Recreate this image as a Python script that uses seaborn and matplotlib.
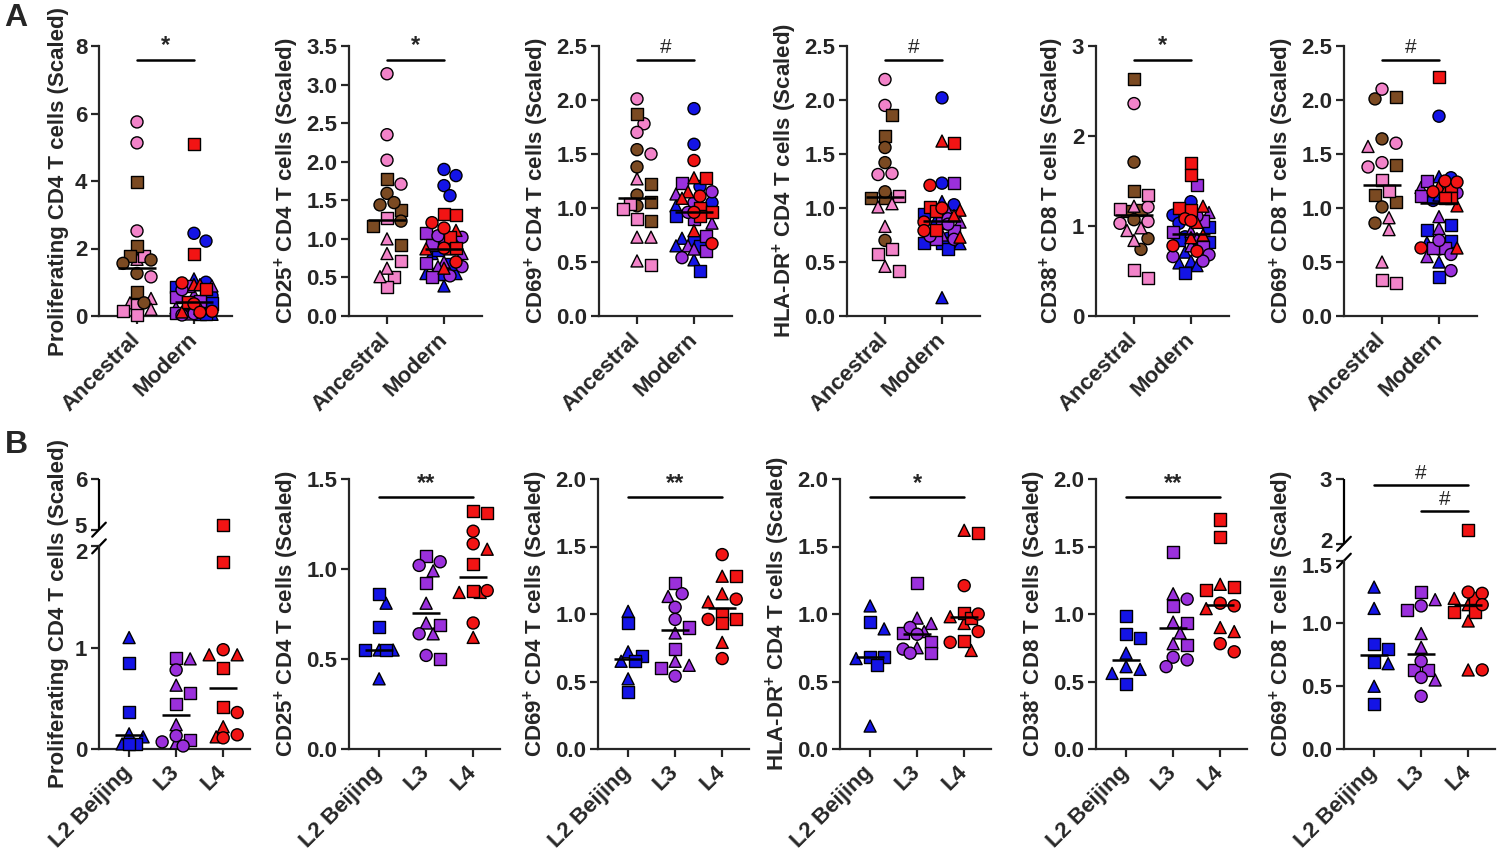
import numpy as np
import pandas as pd
import matplotlib
matplotlib.use("Agg")
import matplotlib.pyplot as plt
import matplotlib.transforms as mtransforms
import seaborn as sns

# ---- data ----
COLORS = {"pink": "#F283C9", "brown": "#7B4A22", "blue": "#1414E6",
          "purple": "#9B30DC", "red": "#F21414"}
MARKERS = {"tri": "^", "sq": "s", "circ": "o"}

metrics = ["prolif", "cd25", "cd69_4", "hladr", "cd38", "cd69_8"]
ylabels = ["Proliferating CD4 T cells (Scaled)",
           "CD25$^{+}$ CD4 T cells (Scaled)",
           "CD69$^{+}$ CD4 T cells (Scaled)",
           "HLA-DR$^{+}$ CD4 T cells (Scaled)",
           "CD38$^{+}$ CD8 T cells (Scaled)",
           "CD69$^{+}$ CD8 T cells (Scaled)"]
groups_a = ["Ancestral", "Modern"]
groups_b = ["L2 Beijing", "L3", "L4"]

# ancestral lineages (pink / brown strains)
anc_prolif = {("pink", "circ"): [5.75, 5.13, 2.52, 1.16], ("pink", "tri"): [1.68, 0.52, 0.39, 0.20],
              ("pink", "sq"): [1.78, 0.33, 0.16, 0.03], ("brown", "sq"): [3.97, 2.08, 1.78, 0.70],
              ("brown", "circ"): [1.66, 1.56, 1.26, 0.39]}
anc_cd25 = {("pink", "circ"): [3.14, 2.35, 2.02, 1.71], ("brown", "sq"): [1.78, 1.38, 1.17, 0.92],
            ("brown", "circ"): [1.59, 1.47, 1.44, 1.23], ("pink", "sq"): [1.27, 0.71, 0.51, 0.37],
            ("pink", "tri"): [1.00, 0.81, 0.62, 0.51]}
anc_cd69_4 = {("pink", "circ"): [2.01, 1.78, 1.70, 1.50], ("brown", "sq"): [1.87, 1.22, 1.06, 0.88],
              ("brown", "circ"): [1.54, 1.38, 1.12, 1.02], ("pink", "tri"): [1.27, 0.73, 0.73, 0.51],
              ("pink", "sq"): [1.04, 0.99, 0.90, 0.47]}
anc_hladr = {("pink", "circ"): [2.19, 1.95, 1.32, 1.31], ("brown", "sq"): [1.86, 1.67, 1.09, 1.09],
             ("brown", "circ"): [1.56, 1.42, 1.15, 0.70], ("pink", "sq"): [1.11, 0.62, 0.57, 0.42],
             ("pink", "tri"): [1.04, 1.01, 0.83, 0.46]}
anc_cd38 = {("brown", "sq"): [2.63, 1.39, 1.18, 1.17], ("pink", "circ"): [2.36, 1.21, 1.05, 1.03],
            ("brown", "circ"): [1.71, 1.07, 0.86, 0.74], ("pink", "sq"): [1.34, 1.19, 0.51, 0.42],
            ("pink", "tri"): [1.22, 0.98, 0.95, 0.84]}
anc_cd69_8 = {("brown", "sq"): [2.03, 1.40, 1.12, 1.06], ("brown", "circ"): [2.01, 1.64, 1.01, 0.86],
              ("pink", "circ"): [2.10, 1.60, 1.42, 1.38], ("pink", "tri"): [1.57, 0.91, 0.80, 0.50],
              ("pink", "sq"): [1.26, 1.16, 0.33, 0.31]}

# extra L2 strain (blue circles) only shown in the Modern column of row A
l2_circ = {"prolif": [2.45, 2.22, 1.00, 0.60], "cd25": [1.90, 1.82, 1.69, 1.56],
           "cd69_4": [1.92, 1.59, 1.20, 1.05], "hladr": [2.02, 1.23, 1.03, 0.72],
           "cd38": [1.27, 1.12, 1.03, 0.88], "cd69_8": [1.85, 1.28, 1.07, 0.62]}

# modern lineages, per strain shape
l2_prolif = {"tri": [1.10, 0.15, 0.12, 0.05], "sq": [0.85, 0.37, 0.05, 0.05]}
l3_prolif = {"tri": [0.89, 0.63, 0.24, 0.06], "sq": [0.90, 0.55, 0.44, 0.09], "circ": [0.78, 0.13, 0.07, 0.03]}
l4_prolif = {"tri": [0.93, 0.93, 0.22, 0.12], "sq": [5.10, 1.85, 0.80, 0.41], "circ": [0.98, 0.36, 0.14, 0.11]}

l2_cd25 = {"tri": [0.81, 0.55, 0.55, 0.39], "sq": [0.86, 0.68, 0.55, 0.55]}
l3_cd25 = {"tri": [0.99, 0.81, 0.70, 0.64], "sq": [1.07, 0.92, 0.69, 0.50], "circ": [1.04, 1.02, 0.64, 0.52]}
l4_cd25 = {"tri": [1.11, 0.87, 0.87, 0.62], "sq": [1.32, 1.31, 1.03, 0.88], "circ": [1.21, 1.14, 0.88, 0.70]}

l2_cd69_4 = {"tri": [1.02, 0.72, 0.65, 0.52], "sq": [0.93, 0.69, 0.65, 0.42]}
l3_cd69_4 = {"tri": [1.13, 0.86, 0.65, 0.62], "sq": [1.23, 0.90, 0.74, 0.60], "circ": [1.15, 1.05, 0.96, 0.54]}
l4_cd69_4 = {"tri": [1.28, 1.15, 1.09, 0.79], "sq": [1.28, 1.00, 0.96, 0.93], "circ": [1.44, 1.11, 0.96, 0.67]}

l2_hladr = {"tri": [1.06, 0.89, 0.67, 0.17], "sq": [0.94, 0.68, 0.68, 0.62]}
l3_hladr = {"tri": [0.97, 0.93, 0.87, 0.75], "sq": [1.23, 0.86, 0.79, 0.71], "circ": [0.90, 0.85, 0.74, 0.71]}
l4_hladr = {"tri": [1.62, 0.98, 0.93, 0.73], "sq": [1.60, 1.01, 0.97, 0.80], "circ": [1.21, 1.00, 0.87, 0.79]}

l2_cd38 = {"tri": [0.71, 0.61, 0.59, 0.56], "sq": [0.985, 0.85, 0.82, 0.48]}
l3_cd38 = {"tri": [1.15, 0.94, 0.86, 0.78], "sq": [1.46, 1.06, 0.93, 0.77], "circ": [1.11, 0.68, 0.66, 0.61]}
l4_cd38 = {"tri": [1.22, 1.04, 0.90, 0.87], "sq": [1.70, 1.57, 1.20, 1.18], "circ": [1.08, 1.06, 0.78, 0.72]}

l2_cd69_8 = {"tri": [1.29, 1.12, 0.68, 0.50], "sq": [0.84, 0.80, 0.69, 0.36]}
l3_cd69_8 = {"tri": [1.19, 0.92, 0.81, 0.55], "sq": [1.25, 1.11, 0.63, 0.63], "circ": [1.14, 0.70, 0.57, 0.42]}
l4_cd69_8 = {"tri": [1.20, 1.15, 1.02, 0.63], "sq": [2.215, 1.20, 1.09, 1.09], "circ": [1.25, 1.24, 1.15, 0.63]}

anc_data = [anc_prolif, anc_cd25, anc_cd69_4, anc_hladr, anc_cd38, anc_cd69_8]
lin_data = [(l2_prolif, l3_prolif, l4_prolif), (l2_cd25, l3_cd25, l4_cd25),
            (l2_cd69_4, l3_cd69_4, l4_cd69_4), (l2_hladr, l3_hladr, l4_hladr),
            (l2_cd38, l3_cd38, l4_cd38), (l2_cd69_8, l3_cd69_8, l4_cd69_8)]
lin_colors = ["blue", "purple", "red"]

ylim_a = [8, 3.5, 2.5, 2.5, 3, 2.5]
yticks_a = [[0, 2, 4, 6, 8], np.arange(0, 3.6, 0.5), np.arange(0, 2.6, 0.5),
            np.arange(0, 2.6, 0.5), [0, 1, 2, 3], np.arange(0, 2.6, 0.5)]
ylim_b = [6, 1.5, 2.0, 2.0, 2.0, 3]
yticks_b = [[0, 1, 2, 5, 6], [0, 0.5, 1.0, 1.5], [0, 0.5, 1.0, 1.5, 2.0],
            [0, 0.5, 1.0, 1.5, 2.0], [0, 0.5, 1.0, 1.5, 2.0], [0, 0.5, 1.0, 1.5, 2, 3]]
yticklabels_b = [["0", "1", "2", "5", "6"], None, None, None, None,
                 ["0.0", "0.5", "1.0", "1.5", "2", "3"]]
# axis breaks: (low end, high start, gap, upper compression)
breaks_b = [(2, 5, 0.165, 0.5), None, None, None, None, (1.5, 2, 0.135, 0.516)]

sig_a = ["*", "*", "#", "#", "*", "#"]
sig_b = [[], [(0, 2, "**", 0.933)], [(0, 2, "**", 0.933)], [(0, 2, "*", 0.933)],
         [(0, 2, "**", 0.933)], [(0, 2, "#", 0.978), (1, 2, "#", 0.881)]]

# ---- style ----
sns.set_style("ticks")
plt.rcParams["font.family"] = ["Liberation Sans", "DejaVu Sans"]
plt.rcParams["font.weight"] = "bold"
plt.rcParams["axes.labelweight"] = "bold"
plt.rcParams["mathtext.fontset"] = "custom"
plt.rcParams["mathtext.rm"] = "Liberation Sans:bold"
plt.rcParams["mathtext.default"] = "rm"

FS = 16
AX_H = 270.0


def make_break(lo, hi, gap, k):
    def fwd(y):
        y = np.asarray(y, dtype=float)
        return np.where(y <= lo, y, np.where(y >= hi, lo + gap + (y - hi) * k,
                                             lo + (y - lo) / (hi - lo) * gap))

    def inv(t):
        t = np.asarray(t, dtype=float)
        return np.where(t <= lo, t, np.where(t >= lo + gap, hi + (t - lo - gap) / k,
                                             lo + (t - lo) / gap * (hi - lo)))
    return fwd, inv


def swarm(y_px, step, kmax, d=11.0):
    # simple capped beeswarm, in pixels
    offs = np.zeros(len(y_px))
    placed = []
    seq = [0]
    for k in range(1, kmax + 1):
        seq += [k, -k]
    for i in np.argsort(-y_px, kind="stable"):
        best, best_gap = 0.0, -1.0
        for k in seq:
            xo = k * step
            gap = min([np.hypot(xo - px, y_px[i] - py) for px, py in placed] + [99.0])
            if gap >= d:
                best = xo
                break
            if gap > best_gap + 1.0:
                best, best_gap = xo, gap
        offs[i] = best
        placed.append((best, y_px[i]))
    return offs


def build_df(groups, fwd, ytop, px_per_cat, spreads):
    rows = []
    for gi, pts in enumerate(groups):
        ys = np.array([p[2] for p in pts])
        y_px = fwd(ys) * AX_H / float(fwd(ytop))
        step, kmax = spreads[gi]
        offs = swarm(y_px, step, kmax) / px_per_cat
        for (c, s, y), o in zip(pts, offs):
            rows.append({"cat": gi, "xpos": gi + o, "y": y, "color": c, "shape": s})
    return pd.DataFrame(rows)


def style_axis(ax, labels, ylabel, xlim, ytop, ticks, ticklabels):
    ax.set_xlim(*xlim)
    ax.set_ylim(0, ytop)
    ax.set_xticks(range(len(labels)))
    ax.set_xticklabels(labels, rotation=45, ha="right", va="center",
                       rotation_mode="anchor", fontsize=FS, fontweight="bold")
    ax.set_yticks(ticks)
    if ticklabels is None:
        ticklabels = [f"{t:g}" if float(ytop).is_integer() and ytop > 3 or ytop == 3 else f"{t:.1f}"
                      for t in ticks]
    ax.set_yticklabels(ticklabels, fontweight="bold")
    ax.tick_params(axis="both", width=1.6, length=5.5, labelsize=FS, pad=3)
    ax.tick_params(axis="x", pad=9)
    ax.set_xlabel("")
    ax.set_ylabel(ylabel, fontsize=FS, fontweight="bold", labelpad=4)
    sns.despine(ax=ax)
    for sp in ("left", "bottom"):
        ax.spines[sp].set_linewidth(1.6)


def sig_bar(ax, x0, x1, text, yfrac):
    ax.plot([x0, x1], [yfrac, yfrac], transform=ax.get_xaxis_transform(),
            color="black", lw=1.8, clip_on=False)
    weight = "normal" if text == "#" else "bold"
    size = 15 if text == "#" else 17
    ax.text((x0 + x1) / 2, yfrac + 0.008, text, transform=ax.get_xaxis_transform(),
            ha="center", va="bottom", fontsize=size, fontweight=weight)


fig = plt.figure(figsize=(15, 8.56), dpi=100)
W, H = 1500.0, 856.0
left_a = [99, 349, 599, 847, 1096, 1344]
left_b = [99, 349, 598, 840, 1096, 1344]
ident = (lambda y: np.asarray(y, dtype=float), lambda y: np.asarray(y, dtype=float))

for i, m in enumerate(metrics):
    # ---- row A ----
    ax = fig.add_axes([left_a[i] / W, (H - 316) / H, 133 / W, AX_H / H])
    anc_pts = [(c, s, v) for (c, s), vals in anc_data[i].items() for v in vals]
    mod_pts = [("blue", "circ", v) for v in l2_circ[m]]
    for lin, col in zip(lin_data[i], lin_colors):
        mod_pts += [(col, s, v) for s, vals in lin.items() for v in vals]
    df = build_df([anc_pts, mod_pts], ident[0], ylim_a[i], 57.0, [(7.0, 2), (6.0, 3)])
    sns.scatterplot(data=df, x="xpos", y="y", hue="color", style="shape",
                    palette=COLORS, markers=MARKERS, s=75, edgecolor="black",
                    linewidth=1, legend=False, ax=ax, zorder=3, clip_on=False)
    for gi, g in df.groupby("cat"):
        ax.hlines(np.median(g["y"]), gi - 0.34, gi + 0.34, color="black", lw=1.8, zorder=5)
    style_axis(ax, groups_a, ylabels[i], (-0.667, 1.667), ylim_a[i], yticks_a[i], None)
    sig_bar(ax, 0, 1, sig_a[i], 0.95)

    # ---- row B ----
    ax = fig.add_axes([left_b[i] / W, (H - 749) / H, 151 / W, AX_H / H])
    brk = breaks_b[i]
    if brk is not None:
        fwd, inv = make_break(*brk)
        ax.set_yscale("function", functions=(fwd, inv))
    else:
        fwd, inv = ident
    groups = []
    for lin, col in zip(lin_data[i], lin_colors):
        groups.append([(col, s, v) for s, vals in lin.items() for v in vals])
    df = build_df(groups, fwd, ylim_b[i], 47.0, [(7.0, 2)] * 3)
    sns.scatterplot(data=df, x="xpos", y="y", hue="color", style="shape",
                    palette=COLORS, markers=MARKERS, s=75, edgecolor="black",
                    linewidth=1, legend=False, ax=ax, zorder=3, clip_on=False)
    for gi, g in df.groupby("cat"):
        ax.hlines(np.median(g["y"]), gi - 0.3, gi + 0.3, color="black", lw=1.8, zorder=5)
    style_axis(ax, groups_b, ylabels[i], (-0.64, 2.57), ylim_b[i], yticks_b[i], yticklabels_b[i])
    if brk is not None:
        lo, hi = brk[0], brk[1]
        top = ylim_b[i]
        ax.spines["left"].set_bounds(0, lo)
        ax.plot([0, 0], [hi, top], transform=ax.get_yaxis_transform(),
                color="black", lw=1.6, clip_on=False, solid_capstyle="butt")
        span = float(fwd(top))
        dy = 7.0 / AX_H * span
        for yv in (lo, hi):
            t0 = float(fwd(yv))
            ax.plot([-0.045, 0.045], inv([t0 - dy, t0 + dy]),
                    transform=ax.get_yaxis_transform(), color="black", lw=1.6, clip_on=False)
        # spread the two tick labels that meet at the break a little apart
        for lab in ax.get_yticklabels():
            pos = lab.get_position()[1]
            if np.isclose(pos, lo) or np.isclose(pos, hi):
                shift = -3.0 if np.isclose(pos, lo) else 3.0
                lab.set_transform(lab.get_transform() + mtransforms.ScaledTranslation(
                    0, shift / 72.0, fig.dpi_scale_trans))
    for x0, x1, txt, yf in sig_b[i]:
        sig_bar(ax, x0, x1, txt, yf)

fig.text(0.003, 0.997, "A", fontsize=23, fontweight="bold", va="top", ha="left")
fig.text(0.003, (H - 430) / H, "B", fontsize=23, fontweight="bold", va="top", ha="left")

fig.savefig("out.png", dpi=100)
